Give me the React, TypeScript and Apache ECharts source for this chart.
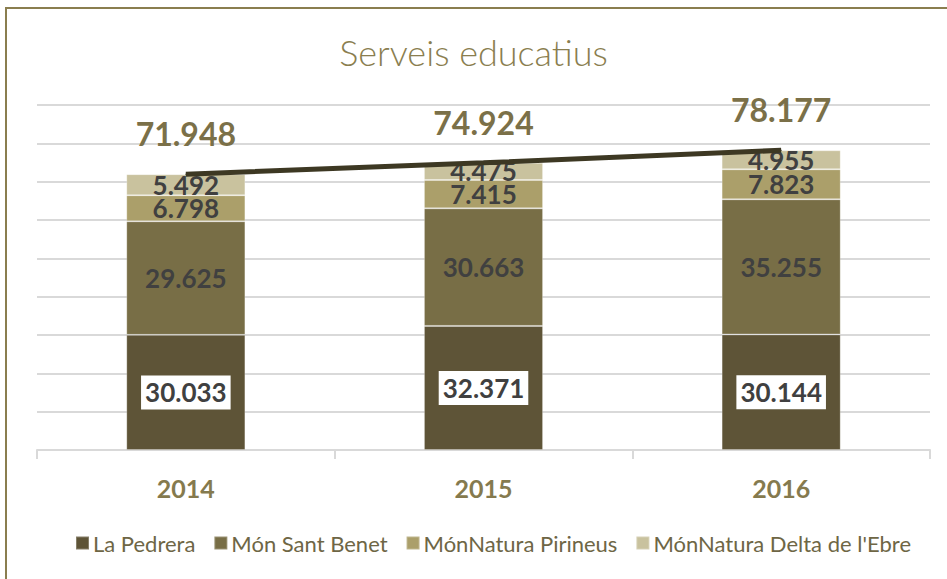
import React, { useEffect, useRef } from "react";
import * as echarts from "echarts";

const years = ["2014", "2015", "2016"];
const seriesNames = ["La Pedrera", "Món Sant Benet", "MónNatura Pirineus", "MónNatura Delta de l'Ebre"];
const laPedrera = [30033, 32371, 30144];
const monSantBenet = [29625, 30663, 35255];
const pirineus = [6798, 7415, 7823];
const delta = [5492, 4475, 4955];
const totals = [71948, 74924, 78177];
const colors = ["#5e5437", "#786e46", "#ab9f6a", "#c9c29e"];

const fmt = (v: number) => String(v).replace(/\B(?=(\d{3})+(?!\d))/g, ".");
const FONT = "Lato, 'Noto Sans', sans-serif";

export default function App() {
  const ref = useRef<HTMLDivElement>(null);
  useEffect(() => {
    document.body.style.margin = "0";
    const chart = echarts.init(ref.current!, null, { renderer: "svg" });
    const values = [laPedrera, monSantBenet, pirineus, delta];
    const barSeries = values.map((d, i) => ({
      name: seriesNames[i],
      type: "bar",
      stack: "total",
      barWidth: "40%",
      data: d,
      itemStyle: { color: colors[i], borderColor: "rgba(255,255,255,0.25)", borderWidth: 1 },
      label: {
        show: true,
        position: "inside",
        formatter: (p: any) => fmt(p.value),
        fontFamily: FONT,
        fontWeight: "bold",
        fontSize: 26,
        color: "#404040",
        ...(i === 0
          ? { backgroundColor: "#ffffff", padding: [5, 4, 3, 4] }
          : {}),
      },
      z: 2,
    }));
    chart.setOption({
      animation: false,
      backgroundColor: "#ffffff",
      title: {
        text: "Serveis educatius",
        left: "center",
        top: 29,
        textStyle: { fontFamily: FONT, fontWeight: 300, fontSize: 36, color: "#8a7e4f" },
      },
      graphic: [
        {
          type: "rect",
          shape: { x: 6, y: 8, width: 960, height: 600 },
          style: { fill: "none", stroke: "#8a7e4f", lineWidth: 2 },
          silent: true,
        },
      ],
      legend: {
        data: seriesNames,
        bottom: 20,
        left: 70,
        icon: "rect",
        itemWidth: 13,
        itemHeight: 13,
        itemGap: 18,
        textStyle: { fontFamily: FONT, fontSize: 22, color: "#6e6645", padding: [0, 0, 0, -1] },
      },
      grid: { left: 37, right: 17, top: 105, bottom: 129 },
      xAxis: {
        type: "category",
        data: years,
        axisLine: { lineStyle: { color: "#d9d9d9", width: 2 } },
        axisTick: { show: true, length: 9, lineStyle: { color: "#d9d9d9", width: 2 } },
        axisLabel: {
          margin: 25,
          fontFamily: FONT,
          fontWeight: "bold",
          fontSize: 25,
          color: "#857a4e",
        },
      },
      yAxis: {
        type: "value",
        min: 0,
        max: 90000,
        interval: 10000,
        axisLabel: { show: false },
        axisLine: { show: false },
        axisTick: { show: false },
        splitLine: { lineStyle: { color: "#d9d9d9", width: 2 } },
      },
      series: [
        ...barSeries,
        {
          name: "Total",
          type: "line",
          data: totals,
          symbol: "circle",
          symbolSize: 1,
          showSymbol: true,
          itemStyle: { color: "#3d3823" },
          lineStyle: { color: "#3d3823", width: 5 },
          z: 5,
          label: {
            show: true,
            position: "top",
            distance: 24,
            formatter: (p: any) => fmt(p.value),
            fontFamily: FONT,
            fontWeight: "bold",
            fontSize: 32,
            color: "#7b7048",
          },
        },
      ],
    });
    return () => chart.dispose();
  }, []);
  return <div ref={ref} style={{ width: 947, height: 579, position: "absolute", left: 0, top: 0 }} />;
}
